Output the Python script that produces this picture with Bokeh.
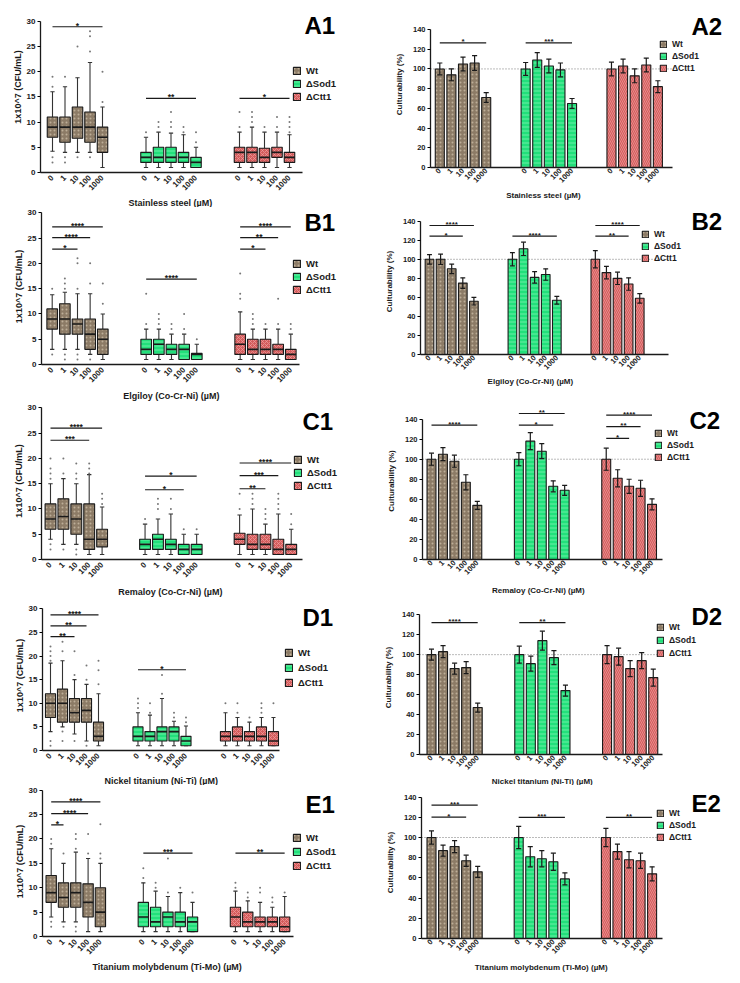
import math
from bokeh.plotting import figure
from bokeh.models import (Range1d, FixedTicker, Label, Legend, LegendItem, Title,
                          CustomJSTickFormatter)
from bokeh.layouts import column, row
from bokeh.embed import file_html
from bokeh.resources import INLINE
from bokeh.core.properties import value

# ---------------- data ----------------
STRAINS = ["Wt", "ΔSod1", "ΔCtt1"]
CONC = ["0", "1", "10", "100", "1000"]
LEFT_NAMES = ["A1", "B1", "C1", "D1", "E1"]
RIGHT_NAMES = ["A2", "B2", "C2", "D2", "E2"]
METALS = ["Stainless steel (µM)", "Elgiloy (Co-Cr-Ni) (µM)", "Remaloy (Co-Cr-Ni) (µM)",
          "Nickel titanium (Ni-Ti) (µM)", "Titanium molybdenum (Ti-Mo) (µM)"]
Y_LABEL_BOX = "1x10^7 (CFU/mL)"
Y_LABEL_BAR = "Culturability (%)"

# box plots: 15 boxes per panel (Wt x5, ΔSod1 x5, ΔCtt1 x5)
A1_low = [4.2, 4, 4, 4, 1, 1, 1, 1, 1, 1, 1, 1, 1, 1, 1]
A1_q1 = [7, 6, 6.8, 6, 4, 2, 2, 2, 2, 1, 2, 2, 2, 3, 2]
A1_med = [9, 9, 9, 9, 7, 3, 3, 3, 3, 2, 4, 4, 3, 4, 3]
A1_q3 = [11, 11, 13, 12, 9, 4, 5, 5, 4, 3, 5, 5, 4.8, 5, 4]
A1_high = [16, 17, 18.8, 21.8, 13, 7, 8, 7.8, 7.5, 5, 8, 9, 8, 8, 7.5]
A1_out = [[17, 19, 3, 2], [19, 3, 2], [25, 3], [24, 27, 28, 3], [14, 20],
          [8], [9, 10], [9, 10, 12], [8, 9], [6, 8],
          [9, 12], [10, 11, 12], [9], [9, 11], [8, 9, 10, 11]]
A1_sig = [(0, 0, 4, 28.9, "*"), (1, 0, 4, 14.7, "**"), (2, 0, 4, 14.7, "*")]

B1_low = [3, 3, 3, 2, 1, 1, 1, 1, 1, 1, 1, 1, 1, 1, 1]
B1_q1 = [7, 6, 6, 3, 2, 2, 2, 2, 1, 1, 2, 2, 2, 2, 1]
B1_med = [9, 9, 8, 6, 5, 3, 4, 3, 3, 2, 4, 3, 3, 3, 2]
B1_q3 = [11, 12, 9, 9, 7, 5, 5, 4, 4, 2.2, 6, 5, 5, 4, 3]
B1_high = [13.8, 14.3, 14, 14, 10, 7, 7, 6, 6, 4, 10.4, 7, 7, 7, 6]
B1_out = [[15, 2], [15, 16, 17, 2, 1], [15, 20, 21, 2, 1], [16, 20, 1], [12, 16],
          [8, 14], [8, 9, 10], [7, 8], [7, 10], [5],
          [13, 14, 18], [8, 9, 10], [8], [8, 13], [7, 8]]
B1_sig = [(0, 0, 2, 22.8, "*"), (0, 0, 3, 25.1, "****"), (0, 0, 4, 27.2, "****"),
          (1, 0, 4, 16.9, "****"),
          (2, 0, 2, 22.8, "*"), (2, 0, 3, 25.1, "**"), (2, 0, 4, 27.2, "****")]

C1_low = [4, 3, 3, 1, 1, 1, 1, 1, 1, 1, 1, 1, 1, 1, 1]
C1_q1 = [6, 6, 5, 2, 2.5, 2, 2, 2, 1, 1, 3, 2, 2, 1, 1]
C1_med = [8, 8.5, 8, 4, 4, 3, 4, 3, 2, 2, 4, 3, 3, 2, 2]
C1_q3 = [11, 12, 11, 11, 6, 4, 5, 4, 3, 3, 5.2, 5, 5, 4, 3]
C1_high = [15, 16, 15, 16.8, 10.4, 7, 8, 9, 5, 5, 8.8, 10, 7, 9, 6]
C1_out = [[16, 17, 18, 20, 2, 3], [17, 20, 2], [16, 17, 19, 2, 1], [17, 18, 19], [11, 12, 13],
          [8], [10, 11, 12], [10, 12], [6], [6],
          [10, 13], [11, 12, 13], [8, 9, 10], [10, 11, 12, 13], [7, 9]]
C1_sig = [(0, 0, 3, 23.6, "***"), (0, 0, 4, 26.0, "****"),
          (1, 0, 3, 13.8, "*"), (1, 0, 4, 16.5, "*"),
          (2, 0, 2, 14.0, "**"), (2, 0, 3, 16.6, "***"), (2, 0, 4, 19.1, "****")]

D1_low = [4, 5, 3.5, 2, 1, 1, 1, 1, 1, 1, 1, 1, 1, 1, 1]
D1_q1 = [7, 6, 6, 6, 2, 2, 2, 2, 2, 1, 2, 2, 2, 2, 1]
D1_med = [10, 10, 8, 8.5, 3, 3, 3, 4, 4, 2, 3, 3, 3, 3, 2]
D1_q3 = [12, 13, 11, 11, 6, 5, 4, 5, 5, 3, 4, 5, 4, 5, 4]
D1_high = [18.5, 19, 15, 14, 12, 8, 7.5, 11, 6.2, 5.2, 8, 7, 6, 7, 7]
D1_out = [[19, 20, 21, 22, 1, 2], [21, 23, 4, 2], [16, 21, 2], [15, 18, 1], [14, 17, 19],
          [9, 10, 11], [8, 10], [12, 16], [7, 8], [6, 7],
          [10], [8, 10], [7], [8, 9, 10], [10]]
D1_sig = [(0, 0, 2, 24.1, "**"), (0, 0, 3, 26.4, "**"), (0, 0, 4, 28.7, "****"),
          (1, 0, 4, 17.1, "*")]

E1_low = [4, 3, 3, 1, 1, 1, 1, 1, 1, 1, 1, 1, 1, 1, 1]
E1_q1 = [7, 6, 6, 4, 2, 2, 2, 2, 2, 1, 2, 2, 2, 2, 1]
E1_med = [9, 8, 9, 7, 5, 4, 3, 4, 3, 3, 4, 3, 3, 3, 2]
E1_q3 = [12.5, 11, 11, 10.8, 10, 7, 6, 5, 5, 4, 6, 5, 4, 4, 4]
E1_high = [18, 15, 17.3, 16, 15, 11, 9.3, 8.2, 9, 7, 9.3, 7.3, 7, 6, 8.2]
E1_out = [[19, 20, 2, 3], [17, 2], [18, 20, 21, 1, 2], [17, 21], [16, 17, 23],
          [12, 14], [10, 11], [9, 16], [10], [9],
          [10, 11], [8, 9], [9, 10], [7, 8], [9]]
E1_sig = [(0, 0, 1, 22.9, "*"), (0, 0, 3, 25.2, "****"), (0, 0, 4, 27.6, "****"),
          (1, 0, 4, 17.1, "***"), (2, 0, 4, 17.1, "**")]

# bar charts: mean culturability (%) and error
A2_mean = [100, 94, 105, 106, 71, 100, 109, 103, 99, 65, 100, 103, 93, 104, 82]
A2_err = [6, 6, 7, 7.5, 5, 6.5, 7.5, 7, 7, 5, 7, 7, 7, 7, 6]
A2_sig = [(0, 0, 4, 126.5, "*"), (1, 0, 4, 126.5, "***")]

B2_mean = [100, 100, 90, 75, 56, 100, 111, 81, 84, 57, 100, 86, 80, 74, 59]
B2_err = [5, 5.5, 5, 5.5, 4, 7, 7, 6, 6, 4, 9, 6.5, 6.5, 6.5, 5]
B2_sig = [(0, 0, 3, 124.3, "*"), (0, 0, 4, 135.5, "****"), (1, 0, 4, 124.3, "****"),
          (2, 0, 3, 124.3, "**"), (2, 0, 4, 135.5, "****")]

C2_mean = [100, 105, 98, 77, 54, 100, 118, 108, 73, 69, 100, 81, 73, 71, 55]
C2_err = [6, 6.5, 6, 7.5, 4, 6.5, 8.5, 7.5, 5.5, 5, 11, 8.5, 7, 8, 5.5]
C2_sig = [(0, 0, 4, 134, "****"), (1, 0, 3, 134, "*"), (1, 0, 4, 145.6, "**"),
          (2, 0, 2, 120.7, "*"), (2, 0, 3, 132.4, "**"), (2, 0, 4, 144, "****")]

D2_mean = [100, 103, 86, 87, 47, 100, 91, 114, 97, 64, 100, 98, 86, 94, 77]
D2_err = [5.5, 6, 5.5, 6, 4.5, 8.5, 7.5, 9.5, 7, 5.5, 9, 8.5, 8, 8, 8.5]
D2_sig = [(0, 0, 4, 132, "****"), (1, 0, 4, 132, "**")]

E2_mean = [100, 87, 91, 77, 66, 100, 81, 79, 76, 59, 100, 86, 78, 77, 64]
E2_err = [6.5, 5.5, 6, 5.5, 5.5, 11, 10, 8, 8.5, 6, 9, 7.5, 8, 7.5, 7]
E2_sig = [(0, 0, 3, 120.2, "*"), (0, 0, 4, 132, "***"), (1, 0, 4, 120, "***"),
          (2, 0, 4, 120, "**")]

REFERENCE_LINE = 100

BOX_DATA = [
    (A1_low, A1_q1, A1_med, A1_q3, A1_high, A1_out, A1_sig),
    (B1_low, B1_q1, B1_med, B1_q3, B1_high, B1_out, B1_sig),
    (C1_low, C1_q1, C1_med, C1_q3, C1_high, C1_out, C1_sig),
    (D1_low, D1_q1, D1_med, D1_q3, D1_high, D1_out, D1_sig),
    (E1_low, E1_q1, E1_med, E1_q3, E1_high, E1_out, E1_sig),
]
BAR_DATA = [(A2_mean, A2_err, A2_sig), (B2_mean, B2_err, B2_sig), (C2_mean, C2_err, C2_sig),
            (D2_mean, D2_err, D2_sig), (E2_mean, E2_err, E2_sig)]

# ---------------- layout / style ----------------
FONT = "Liberation Sans"
FILL = ["#8c7b66", "#22e07b", "#d45c5c"]
HATCH_BOX = ["dot", "horizontal_line", "diagonal_cross"]
HATCH_BAR = ["dot", "horizontal_line", "left_diagonal_line"]
HATCH_COL = ["#bdae98", "#8af3b8", "#ee9f9f"]
INK = "#1a1a1a"

ROW_TOP = [0, 206, 400, 598, 783]
ROW_BOT = [206, 400, 598, 783, 982]
LEFT_X, LEFT_W = 0, 378
RIGHT_X, RIGHT_W = 378, 362

# page-pixel geometry
LEFT_GEOM = [
    dict(fl=40, fr=302, x0=52, unit=12.5, gap=7.48, top=20.7, zero=172, legx=296, legy=[72, 85, 98], labx=304, laby=25, xlab_c=170, xlab_y=203),
    dict(fl=41, fr=299, x0=51.7, unit=12.65, gap=7.43, top=211, zero=362.7, legx=296.5, legy=[262.7, 276, 289.3], labx=304, laby=221, xlab_c=171, xlab_y=394),
    dict(fl=41, fr=302, x0=50, unit=12.9, gap=7.33, top=406.7, zero=558.3, legx=297, legy=[459, 471.7, 485.7], labx=302, laby=420, xlab_c=170, xlab_y=590),
    dict(fl=42, fr=279, x0=50, unit=12.0, gap=7.29, top=607.3, zero=749, legx=288, legy=[654, 669, 682.3], labx=302, laby=615.5, xlab_c=161, xlab_y=777),
    dict(fl=42, fr=293, x0=50.7, unit=12.3, gap=7.49, top=788, zero=934.3, legx=296.7, legy=[836, 850, 864.3], labx=305, laby=802, xlab_c=167, xlab_y=963),
]
RIGHT_GEOM = [
    dict(fl=430, fr=672, x0=439.3, unit=11.6, gap=7.4, top=29.3, zero=167.3, legx=663, legy=[43, 56, 69], labx=691, laby=26, xlab_c=543, xlab_y=193),
    dict(fl=420, fr=668, x0=429, unit=11.1, gap=7.47, top=220, zero=353.3, legx=645, legy=[231, 244.3, 257.7], labx=691, laby=220, xlab_c=530, xlab_y=378),
    dict(fl=422, fr=662, x0=431, unit=11.45, gap=7.63, top=417.3, zero=557.7, legx=658, legy=[430.7, 444, 457.3], labx=689, laby=419, xlab_c=538, xlab_y=588),
    dict(fl=419, fr=662, x0=431, unit=11.55, gap=7.6, top=612.7, zero=752.5, legx=659.7, legy=[625, 639, 652.7], labx=691, laby=615, xlab_c=542, xlab_y=780),
    dict(fl=421, fr=662, x0=431, unit=11.55, gap=7.55, top=794.3, zero=935.7, legx=660, legy=[808.3, 821.7, 835.7], labx=691, laby=801, xlab_c=541, xlab_y=963),
]

# Arial/Liberation Sans Bold advance widths (per 1000 em) for label centring
WIDTHS = {" ": 278, "(": 333, ")": 333, "-": 333, "µ": 611, "M": 833, "S": 667, "E": 667,
          "C": 722, "N": 722, "R": 722, "T": 611, "a": 556, "b": 611, "c": 556, "d": 611,
          "e": 556, "g": 611, "i": 278, "k": 556, "l": 278, "m": 889, "n": 611, "o": 611,
          "r": 389, "s": 556, "t": 333, "u": 611, "y": 556}


def text_width(s, fs):
    return sum(WIDTHS.get(ch, 556) for ch in s) / 1000.0 * fs


def base_fig(geom, r, origin_x, total_w, top_val, step, tick_fs, lab_fs, xlab, ylab,
             mls, yls, axis_h):
    rt, rb = ROW_TOP[r], ROW_BOT[r]
    mbl = round(geom["fl"] - origin_x)
    mbr = 1
    fw = total_w - mbl - mbr
    mbt = 1
    ft = rt + mbt
    fh = round(geom["zero"] - ft)
    mbb = (rb - rt) - mbt - fh
    fl = origin_x + mbl
    zero = ft + fh
    ppu_y = (geom["zero"] - geom["top"]) / top_val
    xs = (fl - geom["x0"]) / geom["unit"]
    xe = xs + fw / geom["unit"]
    p = figure(x_range=Range1d(xs, xe), y_range=Range1d(0, fh / ppu_y),
               frame_width=fw, frame_height=fh, min_border_left=mbl, min_border_right=mbr,
               min_border_top=mbt, min_border_bottom=mbb,
               output_backend="svg", toolbar_location=None)
    p.outline_line_color = None
    p.grid.visible = False
    p.background_fill_color = "white"
    p.border_fill_color = "white"
    for ax in p.axis:
        ax.axis_line_color = INK
        ax.axis_line_width = 1.3
        ax.major_label_text_font = FONT
        ax.major_label_text_font_style = "bold"
        ax.major_label_text_font_size = f"{tick_fs}px"
        ax.major_label_text_color = INK
        ax.axis_label_text_font = FONT
        ax.axis_label_text_font_style = "bold"
        ax.axis_label_text_font_size = f"{lab_fs}px"
        ax.axis_label_text_color = INK
        ax.minor_tick_line_color = None
    p.yaxis.ticker = FixedTicker(ticks=list(range(0, top_val + 1, step)))
    p.yaxis.bounds = (0, top_val)
    p.yaxis.major_tick_out = 3
    p.yaxis.major_tick_in = 0
    p.yaxis.major_tick_line_width = 1.2
    p.yaxis.major_label_standoff = 2
    p.yaxis.axis_label = ylab
    p.yaxis.axis_label_standoff = yls
    gap = geom["gap"]
    axis_end = (geom["fr"] - geom["x0"]) / geom["unit"]
    p.xaxis.bounds = (xs, axis_end)
    p.xaxis.ticker = FixedTicker(ticks=[g * gap + i for g in range(3) for i in range(5)])
    p.xaxis.formatter = CustomJSTickFormatter(args=dict(labels=CONC, gap=gap), code="""
        const g = Math.floor((tick + 0.5) / gap);
        const i = Math.round(tick - g * gap);
        return (i >= 0 && i < labels.length) ? labels[i] : "";
    """)
    p.xaxis.major_label_orientation = math.pi / 4
    p.xaxis.major_tick_out = 0
    p.xaxis.major_tick_in = 0
    p.xaxis.major_label_standoff = mls
    # x-axis title placed below the axis, centred where the reference has it
    th = lab_fs * 1.15
    want = geom["xlab_y"] - geom["zero"]          # px from axis to label centre
    standoff = max(0, round(2 * (want - axis_h - th / 2)))
    standoff = min(standoff, max(0, int(mbb - axis_h - th - 1)))
    off = geom["xlab_c"] - fl - text_width(xlab, lab_fs) / 2
    p.add_layout(Title(text=xlab, align="left", offset=off, standoff=standoff,
                       text_font=FONT, text_font_style="bold", text_font_size=f"{lab_fs}px",
                       text_color=INK), "below")
    cx = lambda px: (px - geom["x0"]) / geom["unit"]
    cy = lambda py: (zero - py) / ppu_y
    return p, cx, cy, fl, zero, axis_end


def add_sig(p, gap, sig, fs):
    x0s, x1s, ys, tx, tt = [], [], [], [], []
    for g, i, j, y, lab in sig:
        a, b = g * gap + i, g * gap + j
        x0s.append(a); x1s.append(b); ys.append(y)
        tx.append((a + b) / 2); tt.append(lab)
    p.segment(x0=x0s, y0=ys, x1=x1s, y1=ys, line_color=INK, line_width=1.2)
    p.text(x=tx, y=ys, text=tt, text_font=value(FONT), text_font_style="bold",
           text_font_size=f"{fs}px", text_align="center", text_baseline="alphabetic",
           y_offset=-1, text_color=INK)


def add_legend_and_name(p, geom, rends, cx, cy, fl, zero, gs, fs, name, name_fs):
    pitch = geom["legy"][1] - geom["legy"][0]
    items = [LegendItem(label=STRAINS[g], renderers=[rends[g]]) for g in range(3)]
    lx = geom["legx"] - gs / 2 - fl
    ly = zero - (geom["legy"][-1] + gs / 2)
    leg = Legend(items=items, location=(round(lx), round(ly)), orientation="vertical",
                 padding=0, margin=0, spacing=max(0, round(pitch - 11)),
                 glyph_width=gs, glyph_height=gs, label_standoff=5, label_height=gs,
                 label_text_font=FONT, label_text_font_style="bold",
                 label_text_font_size=f"{fs}px", label_text_color=INK,
                 background_fill_alpha=0, border_line_alpha=0)
    p.add_layout(leg)
    p.add_layout(Label(x=cx(geom["labx"]), y=cy(geom["laby"]), text=name,
                       text_font=FONT, text_font_style="bold", text_font_size=f"{name_fs}px",
                       text_color="black", text_align="left", text_baseline="middle"))


def box_panel(r):
    geom = LEFT_GEOM[r]
    low, q1, med, q3, high, outs, sig = BOX_DATA[r]
    p, cx, cy, fl, zero, axis_end = base_fig(geom, r, LEFT_X, LEFT_W, 30, 5, 8, 9, METALS[r],
                                             Y_LABEL_BOX, 4, 1, 23)
    gap = geom["gap"]
    rends = []
    for g in range(3):
        xs = [g * gap + i for i in range(5)]
        s = slice(5 * g, 5 * g + 5)
        p.segment(x0=xs, y0=q3[s], x1=xs, y1=high[s], line_color="#333333", line_width=1.1)
        p.segment(x0=xs, y0=low[s], x1=xs, y1=q1[s], line_color="#333333", line_width=1.1)
        p.segment(x0=[x - 0.17 for x in xs], y0=high[s], x1=[x + 0.17 for x in xs], y1=high[s],
                  line_color="#333333", line_width=1.1)
        p.segment(x0=[x - 0.17 for x in xs], y0=low[s], x1=[x + 0.17 for x in xs], y1=low[s],
                  line_color="#333333", line_width=1.1)
        rb = p.vbar(x=xs, bottom=q1[s], top=q3[s], width=0.84, fill_color=FILL[g],
                    hatch_pattern=HATCH_BOX[g], hatch_color=HATCH_COL[g], hatch_scale=4,
                    hatch_weight=0.7, line_color=INK, line_width=1.1)
        p.segment(x0=[x - 0.42 for x in xs], y0=med[s], x1=[x + 0.42 for x in xs], y1=med[s],
                  line_color=INK, line_width=1.6)
        ox, oy = [], []
        for i, x in enumerate(xs):
            for v in outs[5 * g + i]:
                ox.append(x); oy.append(v)
        p.scatter(x=ox, y=oy, size=2, marker="circle", fill_color="#777777", line_color=None)
        rends.append(rb)
    add_sig(p, gap, sig, 8.5)
    add_legend_and_name(p, geom, rends, cx, cy, fl, zero, 9, 9.5, LEFT_NAMES[r], 24)
    return p


def bar_panel(r):
    geom = RIGHT_GEOM[r]
    mean, err, sig = BAR_DATA[r]
    p, cx, cy, fl, zero, axis_end = base_fig(geom, r, RIGHT_X, RIGHT_W, 140, 20, 7.5, 8, METALS[r],
                                             Y_LABEL_BAR, 2, 6, 20)
    gap = geom["gap"]
    p.segment(x0=[p.x_range.start], y0=[REFERENCE_LINE], x1=[axis_end], y1=[REFERENCE_LINE],
              line_color="#777777", line_width=1, line_dash="1 2")
    rends = []
    for g in range(3):
        xs = [g * gap + i for i in range(5)]
        s = slice(5 * g, 5 * g + 5)
        m = mean[s]; e = err[s]
        rb = p.vbar(x=xs, bottom=0, top=m, width=0.78, fill_color=FILL[g],
                    hatch_pattern=HATCH_BAR[g], hatch_color=HATCH_COL[g], hatch_scale=4,
                    hatch_weight=0.7, line_color=INK, line_width=1.1)
        lo = [a - b for a, b in zip(m, e)]
        hi = [a + b for a, b in zip(m, e)]
        p.segment(x0=xs, y0=lo, x1=xs, y1=hi, line_color=INK, line_width=1.2)
        for yy in (lo, hi):
            p.segment(x0=[x - 0.22 for x in xs], y0=yy, x1=[x + 0.22 for x in xs], y1=yy,
                      line_color=INK, line_width=1.2)
        rends.append(rb)
    add_sig(p, gap, sig, 8)
    add_legend_and_name(p, geom, rends, cx, cy, fl, zero, 8, 8.5, RIGHT_NAMES[r], 24)
    return p


rows = [row(box_panel(r), bar_panel(r)) for r in range(5)]
layout = column(*rows)
open("out.html", "w").write(file_html(layout, INLINE))
